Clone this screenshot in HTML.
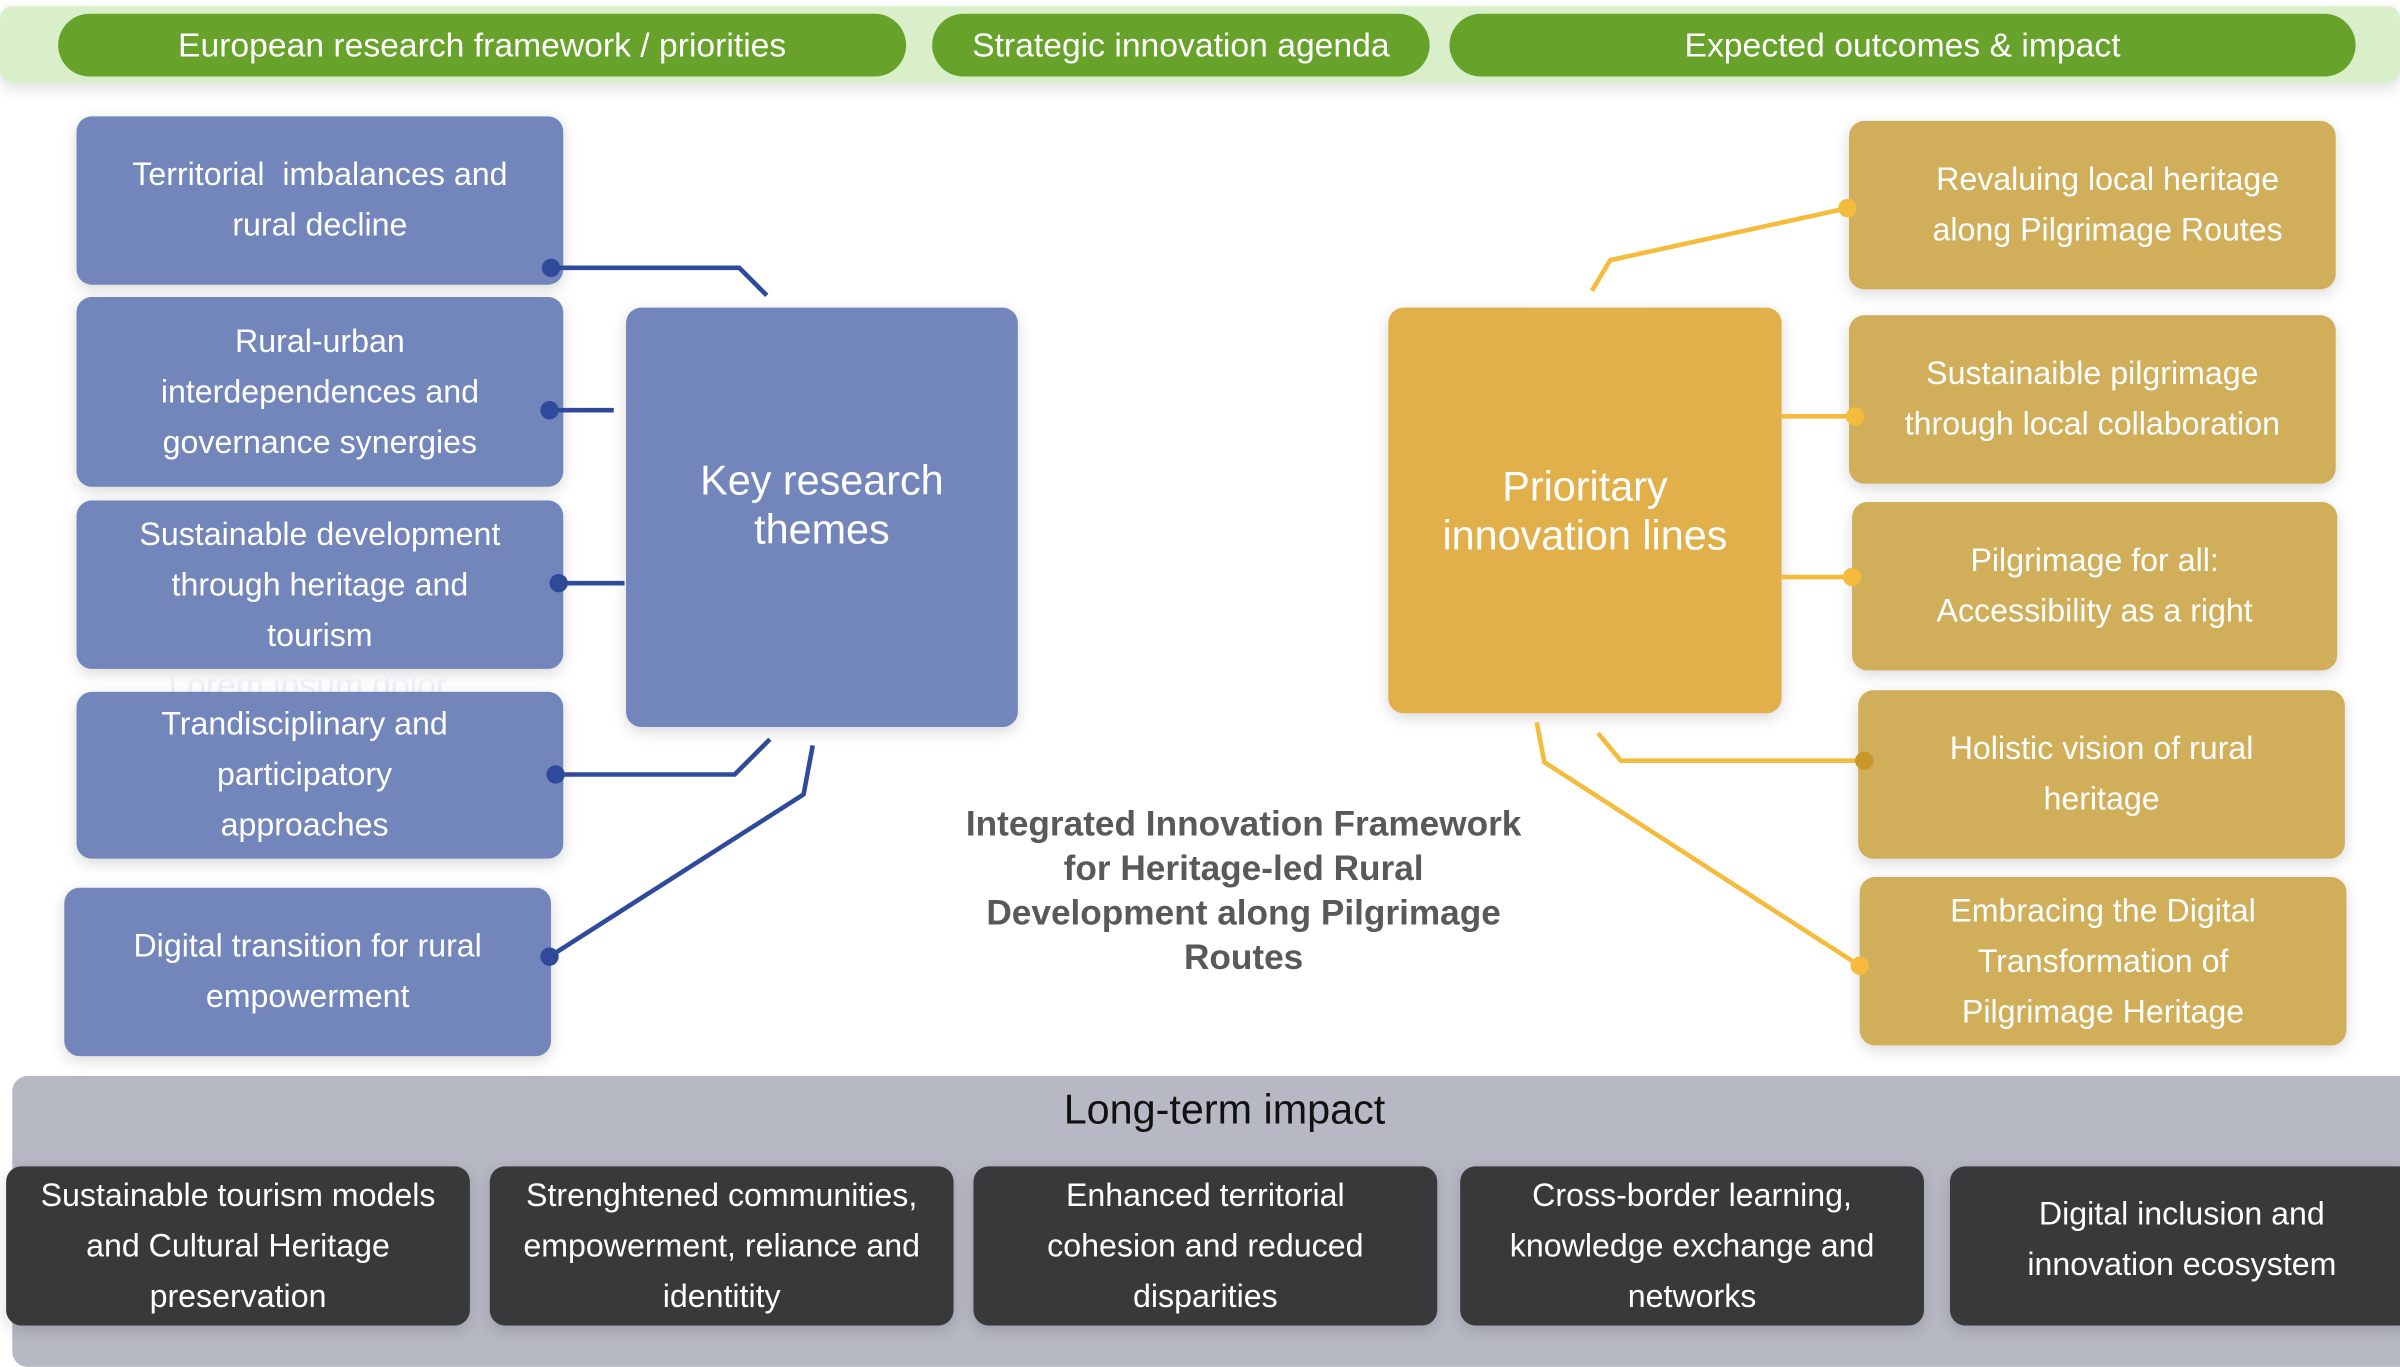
<!DOCTYPE html>
<html><head><meta charset="utf-8"><style>
html,body{margin:0;padding:0;background:#fff;width:2400px;height:1350px;overflow:hidden}
#c{position:absolute;left:0;top:0;width:1568px;height:882px;transform:scale(1.530612);transform-origin:0 0;font-family:"Liberation Sans",sans-serif}
.b{position:absolute;display:flex;align-items:center;justify-content:center;text-align:center;color:#fff;box-sizing:border-box;border-radius:10px;box-shadow:0 3px 10px rgba(0,0,0,0.15)}
.bl{background:#7386bb;font-size:21px;line-height:33px}
.gd{background:#d1af5a;font-size:21px;line-height:33px}
.pill{position:absolute;background:#67a32b;color:#fff;border-radius:22px;height:41px;top:9px;display:flex;align-items:center;justify-content:center;font-size:22px}
.dk{background:#39393b;font-size:21px;line-height:33px;top:762px;height:104px;border-radius:10px}
svg{position:absolute;left:0;top:0}
</style></head><body><div id="c">
<div style="position:absolute;left:0;top:4px;width:1568px;height:50px;background:#d9efc9;border-radius:8px;box-shadow:0 4px 10px rgba(0,0,0,0.12)"></div>
<div class="pill" style="left:38px;width:554px">European research framework / priorities</div>
<div class="pill" style="left:609px;width:325px">Strategic innovation agenda</div>
<div class="pill" style="left:947px;width:592px">Expected outcomes &amp; impact</div>

<div class="b bl" style="left:50px;top:76px;width:318px;height:110px">Territorial&nbsp; imbalances and<br>rural decline</div>
<div class="b bl" style="left:50px;top:194px;width:318px;height:124px">Rural-urban<br>interdependences and<br>governance synergies</div>
<div class="b bl" style="left:50px;top:327px;width:318px;height:110px">Sustainable development<br>through heritage and<br>tourism</div>
<div style="position:absolute;left:110px;top:435px;color:#eef0f7;font-size:22px">Lorem ipsum dolor</div>
<div class="b bl" style="left:50px;top:452px;width:318px;height:109px;padding-right:20px">Trandisciplinary and<br>participatory<br>approaches</div>
<div class="b bl" style="left:42px;top:580px;width:318px;height:110px">Digital transition for rural<br>empowerment</div>
<div class="b bl" style="left:409px;top:201px;width:256px;height:274px;font-size:27px;line-height:32px;align-items:flex-start;padding-top:97px">Key research<br>themes</div>

<div class="b" style="left:907px;top:201px;width:257px;height:265px;background:#e2b04b;font-size:27px;line-height:32px;align-items:flex-start;padding-top:101px">Prioritary<br>innovation lines</div>
<div class="b gd" style="left:1208px;top:79px;width:318px;height:110px;padding-left:20px">Revaluing local heritage<br>along Pilgrimage Routes</div>
<div class="b gd" style="left:1208px;top:206px;width:318px;height:110px">Sustainaible pilgrimage<br>through local collaboration</div>
<div class="b gd" style="left:1210px;top:328px;width:317px;height:110px">Pilgrimage for all:<br>Accessibility as a right</div>
<div class="b gd" style="left:1214px;top:451px;width:318px;height:110px">Holistic vision of rural<br>heritage</div>
<div class="b gd" style="left:1215px;top:573px;width:318px;height:110px">Embracing the Digital<br>Transformation of<br>Pilgrimage Heritage</div>

<div style="position:absolute;left:630px;top:524px;width:365px;text-align:center;font-weight:bold;color:#595959;font-size:23px;line-height:29px">Integrated Innovation Framework for Heritage-led Rural Development along Pilgrimage Routes</div>

<div style="position:absolute;left:8px;top:703px;width:1570px;height:190px;background:#b6b8c4;border-radius:10px"></div>
<div style="position:absolute;left:600px;top:706px;width:400px;text-align:center;font-size:27px;line-height:38px;color:#111">Long-term impact</div>
<div class="b dk" style="left:4px;width:303px">Sustainable tourism models<br>and Cultural Heritage<br>preservation</div>
<div class="b dk" style="left:320px;width:303px">Strenghtened communities,<br>empowerment, reliance and<br>identitity</div>
<div class="b dk" style="left:636px;width:303px">Enhanced territorial<br>cohesion and reduced<br>disparities</div>
<div class="b dk" style="left:954px;width:303px">Cross-border learning,<br>knowledge exchange and<br>networks</div>
<div class="b dk" style="left:1274px;width:303px;padding-bottom:8px">Digital inclusion and<br>innovation ecosystem</div>

<svg width="1568" height="882" viewBox="0 0 1568 882">
<g stroke="#2f4a9b" stroke-width="3" fill="none">
<polyline points="360,175 483,175 501,193"/>
<polyline points="359,268 401,268"/>
<polyline points="365,381 408,381"/>
<polyline points="363,506 480,506 503,483"/>
<polyline points="359,625 525,519 531,487"/>
</g>
<g fill="#2f4a9b"><circle cx="360" cy="175" r="6"/><circle cx="359" cy="268" r="6"/><circle cx="365" cy="381" r="6"/><circle cx="363" cy="506" r="6"/><circle cx="359" cy="625" r="6"/></g>
<g stroke="#f4bb3c" stroke-width="3" fill="none">
<polyline points="1040,190 1052,170 1207,136"/>
<polyline points="1164,272 1212,272"/>
<polyline points="1164,377 1210,377"/>
<polyline points="1044,479 1059,497 1218,497"/>
<polyline points="1004,472 1009,498 1215,631"/>
</g>
<g fill="#f4bb3c"><circle cx="1207" cy="136" r="6"/><circle cx="1212" cy="272" r="6"/><circle cx="1210" cy="377" r="6"/><circle cx="1218" cy="497" r="6" fill="#c9962a"/><circle cx="1215" cy="631" r="6"/></g>
</svg>
</div></body></html>
